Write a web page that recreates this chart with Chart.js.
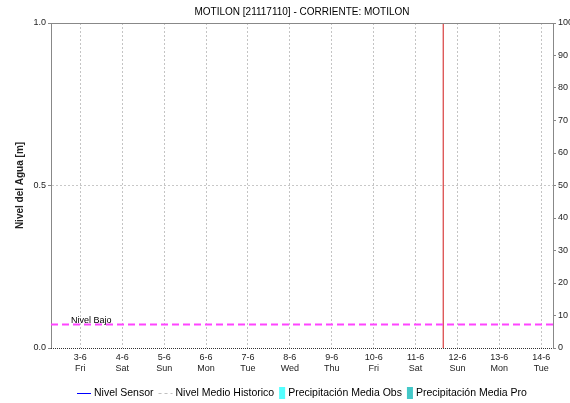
<!DOCTYPE html>
<html>
<head>
<meta charset="utf-8">
<script src="https://cdn.jsdelivr.net/npm/chart.js@4.4.0/dist/chart.umd.min.js"></script>
<style>
  html, body { margin: 0; padding: 0; background: #fff; }
</style>
</head>
<body>
<canvas id="myChart" width="570" height="403"></canvas>
<script>
/* global Chart */

// datos
const fechas = ['3-6', '4-6', '5-6', '6-6', '7-6', '8-6', '9-6', '10-6', '11-6', '12-6', '13-6', '14-6'];
const diasSemana = ['Fri', 'Sat', 'Sun', 'Mon', 'Tue', 'Wed', 'Thu', 'Fri', 'Sat', 'Sun', 'Mon', 'Tue'];
const nivelSensor = [];
const nivelMedioHistorico = [];
const precipObs = [];
const precipPro = [];
const nivelBajo = 0.072;
const horaActual = 8.66;       // en dias desde 3-6
const rangoDias = [-0.70, 11.28];
const ticksNivel = [0, 0.5, 1.0];
const rangoPrecip = [0, 100];

const FONT = '"Liberation Sans", Arial, sans-serif';

// marco: linea superior gris y eje inferior punteado
const marco = {
  id: 'marco',
  afterDatasetsDraw(chart) {
    const { ctx, chartArea: a } = chart;
    ctx.save();
    ctx.lineWidth = 1;
    ctx.strokeStyle = '#888';
    ctx.beginPath();
    ctx.moveTo(a.left, a.top + 0.5);
    ctx.lineTo(a.right, a.top + 0.5);
    ctx.stroke();
    ctx.strokeStyle = '#333';
    ctx.setLineDash([1, 1]);
    ctx.beginPath();
    ctx.moveTo(a.left, a.bottom + 0.5);
    ctx.lineTo(a.right, a.bottom + 0.5);
    ctx.stroke();
    ctx.restore();
  }
};

// etiqueta del umbral "Nivel Bajo"
const etiquetaUmbral = {
  id: 'etiquetaUmbral',
  afterDatasetsDraw(chart) {
    const ctx = chart.ctx;
    const y = chart.scales.y.getPixelForValue(nivelBajo);
    ctx.save();
    ctx.font = '9px ' + FONT;
    ctx.fillStyle = '#000';
    ctx.textBaseline = 'alphabetic';
    ctx.fillText('Nivel Bajo', chart.chartArea.left + 20, y - 1.5);
    ctx.restore();
  }
};

// leyenda propia, centrada sobre el area del grafico
const leyenda = {
  id: 'leyenda',
  afterDraw(chart) {
    const ctx = chart.ctx;
    const y = 393;
    const items = chart.data.datasets.filter(function(ds) { return ds.enLeyenda; });
    ctx.save();
    ctx.font = '10.5px ' + FONT;
    ctx.textBaseline = 'middle';
    const simbolo = function(ds) { return ds.type === 'bar' ? 9 : 17; };
    let total = 0;
    items.forEach(function(ds) { total += simbolo(ds) + ctx.measureText(ds.label).width + 5; });
    total -= 5;
    let x = Math.round((chart.chartArea.left + chart.chartArea.right - total) / 2);
    items.forEach(function(ds) {
      if (ds.type === 'bar') {
        ctx.fillStyle = ds.backgroundColor;
        ctx.fillRect(x, y - 6, 6, 12);
      } else {
        ctx.strokeStyle = ds.borderColor;
        ctx.lineWidth = 1;
        ctx.setLineDash(ds.borderDash || []);
        ctx.beginPath();
        ctx.moveTo(x, y + 0.5);
        ctx.lineTo(x + 14, y + 0.5);
        ctx.stroke();
        ctx.setLineDash([]);
      }
      x += simbolo(ds);
      ctx.fillStyle = '#000';
      ctx.fillText(ds.label, x, y);
      x += ctx.measureText(ds.label).width + 5;
    });
    ctx.restore();
  }
};

const ctx = document.getElementById('myChart').getContext('2d');

// eslint-disable-next-line no-unused-vars
const chart = new Chart(ctx, {
  type: 'line',
  data: {
    datasets: [{
      label: 'Nivel Sensor',
      enLeyenda: true,
      data: nivelSensor,
      borderColor: '#0000ff',
      borderWidth: 1,
      pointRadius: 0,
      yAxisID: 'y',
    },
    {
      label: 'Nivel Medio Historico',
      enLeyenda: true,
      data: nivelMedioHistorico,
      borderColor: '#c0c0c0',
      borderDash: [3, 3],
      borderWidth: 1,
      pointRadius: 0,
      yAxisID: 'y',
    },
    {
      type: 'bar',
      label: 'Precipitación Media Obs',
      enLeyenda: true,
      data: precipObs,
      backgroundColor: '#55ffff',
      yAxisID: 'y2',
    },
    {
      type: 'bar',
      label: 'Precipitación Media Pro',
      enLeyenda: true,
      data: precipPro,
      backgroundColor: '#44c8c8',
      yAxisID: 'y2',
    },
    {
      label: 'Nivel Bajo',
      data: [{ x: rangoDias[0], y: nivelBajo }, { x: rangoDias[1], y: nivelBajo }],
      borderColor: '#ff44ff',
      borderDash: [7, 4],
      borderWidth: 2,
      pointRadius: 0,
      yAxisID: 'y',
    },
    {
      label: 'Ahora',
      data: [{ x: horaActual, y: ticksNivel[0] }, { x: horaActual, y: ticksNivel[ticksNivel.length - 1] }],
      borderColor: '#d01818',
      borderWidth: 1,
      pointRadius: 0,
      yAxisID: 'y',
    }]
  },
  options: {
    responsive: false,
    animation: false,
    events: [],
    layout: { padding: { left: 0, right: 0, top: 0, bottom: 30 } },
    plugins: {
      legend: { display: false },
      tooltip: { enabled: false },
      title: {
        display: true,
        fullSize: false,
        text: 'MOTILON [21117110] - CORRIENTE: MOTILON',
        color: '#000',
        font: { family: FONT, size: 10, weight: 'normal' },
        padding: { top: 6, bottom: 5 },
      },
    },
    scales: {
      x: {
        type: 'linear',
        position: 'bottom',
        min: rangoDias[0],
        max: rangoDias[1],
        offset: false,
        afterBuildTicks: function(s) {
          s.ticks = fechas.map(function(f, i) { return { value: i }; });
        },
        afterFit: function(s) { s.height = 25; },
        ticks: {
          autoSkip: false,
          maxRotation: 0,
          padding: 4,
          color: '#222',
          font: { family: FONT, size: 9, lineHeight: 1.25 },
          callback: function(v, i) { return [fechas[i], diasSemana[i]]; },
        },
        grid: {
          offset: false,
          color: '#c4c4c4',
          drawTicks: false,
        },
        border: { display: false, dash: [2, 2] },
      },
      y: {
        type: 'linear',
        position: 'left',
        min: ticksNivel[0],
        max: ticksNivel[ticksNivel.length - 1],
        afterBuildTicks: function(s) {
          s.ticks = ticksNivel.map(function(v) { return { value: v }; });
        },
        afterFit: function(s) { s.width = 51; },
        ticks: {
          padding: 2,
          color: '#222',
          font: { family: FONT, size: 9 },
          callback: function(v) { return v.toFixed(1); },
        },
        grid: {
          color: function(c) {
            return (c.tick && c.tick.value > 0 && c.tick.value < 1) ? '#c8c8c8' : 'rgba(0,0,0,0)';
          },
          tickColor: '#888',
          tickLength: 3,
          tickBorderDash: [],
        },
        border: { display: true, color: '#888', dash: [2, 2] },
        title: {
          display: true,
          text: 'Nivel del Agua [m]',
          color: '#222',
          font: { family: FONT, size: 10, weight: 'bold' },
          padding: { top: 14, bottom: 0 },
        },
      },
      y2: {
        type: 'linear',
        position: 'right',
        min: rangoPrecip[0],
        max: rangoPrecip[1],
        afterFit: function(s) { s.width = 17; },
        ticks: {
          stepSize: 10,
          padding: 2,
          color: '#222',
          font: { family: FONT, size: 9 },
        },
        grid: {
          drawOnChartArea: false,
          color: '#888',
          tickLength: 3,
        },
        border: { display: true, color: '#888' },
      },
    },
  },
  plugins: [marco, etiquetaUmbral, leyenda],
});
</script>
</body>
</html>
